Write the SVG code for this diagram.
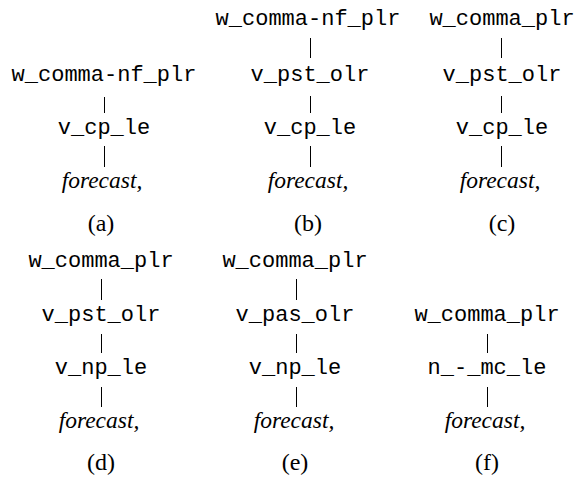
<svg xmlns="http://www.w3.org/2000/svg" width="576" height="478" viewBox="0 0 576 478">
<style>
.t{font-family:"Liberation Mono","Courier New",monospace;font-size:22px;fill:#000;text-anchor:middle}
.w{font-family:"Liberation Serif","Times New Roman",serif;font-style:italic;font-size:23.5px;fill:#000;text-anchor:middle}
.l{font-family:"Liberation Serif","Times New Roman",serif;font-size:24px;fill:#000;text-anchor:middle}
line{stroke:#000;stroke-width:1}
</style>
<rect width="576" height="478" fill="#fff"/>
<g id="tree-a">
<text class="t" x="104" y="81">w_comma-nf_plr</text>
<text class="t" x="104" y="134">v_cp_le</text>
<text class="w" x="102" y="188">forecast,</text>
<text class="l" x="101" y="231">(a)</text>
</g>
<g id="tree-b">
<text class="t" x="308" y="25">w_comma-nf_plr</text>
<text class="t" x="310" y="81">v_pst_olr</text>
<text class="t" x="310" y="134">v_cp_le</text>
<text class="w" x="308" y="188">forecast,</text>
<text class="l" x="308" y="231">(b)</text>
</g>
<g id="tree-c">
<text class="t" x="502" y="25">w_comma_plr</text>
<text class="t" x="502" y="81">v_pst_olr</text>
<text class="t" x="502" y="134">v_cp_le</text>
<text class="w" x="500" y="188">forecast,</text>
<text class="l" x="502" y="231">(c)</text>
</g>
<g id="tree-d">
<text class="t" x="101" y="267">w_comma_plr</text>
<text class="t" x="101" y="321">v_pst_olr</text>
<text class="t" x="101" y="374">v_np_le</text>
<text class="w" x="99" y="428">forecast,</text>
<text class="l" x="101" y="470">(d)</text>
</g>
<g id="tree-e">
<text class="t" x="295" y="267">w_comma_plr</text>
<text class="t" x="295" y="321">v_pas_olr</text>
<text class="t" x="295" y="374">v_np_le</text>
<text class="w" x="294" y="428">forecast,</text>
<text class="l" x="295" y="470">(e)</text>
</g>
<g id="tree-f">
<text class="t" x="487" y="321">w_comma_plr</text>
<text class="t" x="487" y="374">n_-_mc_le</text>
<text class="w" x="485" y="428">forecast,</text>
<text class="l" x="487" y="470">(f)</text>
</g>
<g id="connectors">
<line x1="104.5" y1="97" x2="104.5" y2="113"/>
<line x1="104.5" y1="146" x2="104.5" y2="167"/>
<line x1="310.5" y1="38" x2="310.5" y2="58"/>
<line x1="310.5" y1="96" x2="310.5" y2="113"/>
<line x1="310.5" y1="146" x2="310.5" y2="167"/>
<line x1="501.5" y1="38" x2="501.5" y2="58"/>
<line x1="501.5" y1="96" x2="501.5" y2="113"/>
<line x1="501.5" y1="146" x2="501.5" y2="167"/>
<line x1="101.5" y1="279" x2="101.5" y2="300"/>
<line x1="101.5" y1="334" x2="101.5" y2="353"/>
<line x1="101.5" y1="387" x2="101.5" y2="407"/>
<line x1="296.5" y1="279" x2="296.5" y2="300"/>
<line x1="296.5" y1="334" x2="296.5" y2="353"/>
<line x1="296.5" y1="387" x2="296.5" y2="407"/>
<line x1="487.5" y1="334" x2="487.5" y2="353"/>
<line x1="487.5" y1="387" x2="487.5" y2="407"/>
</g>
</svg>
